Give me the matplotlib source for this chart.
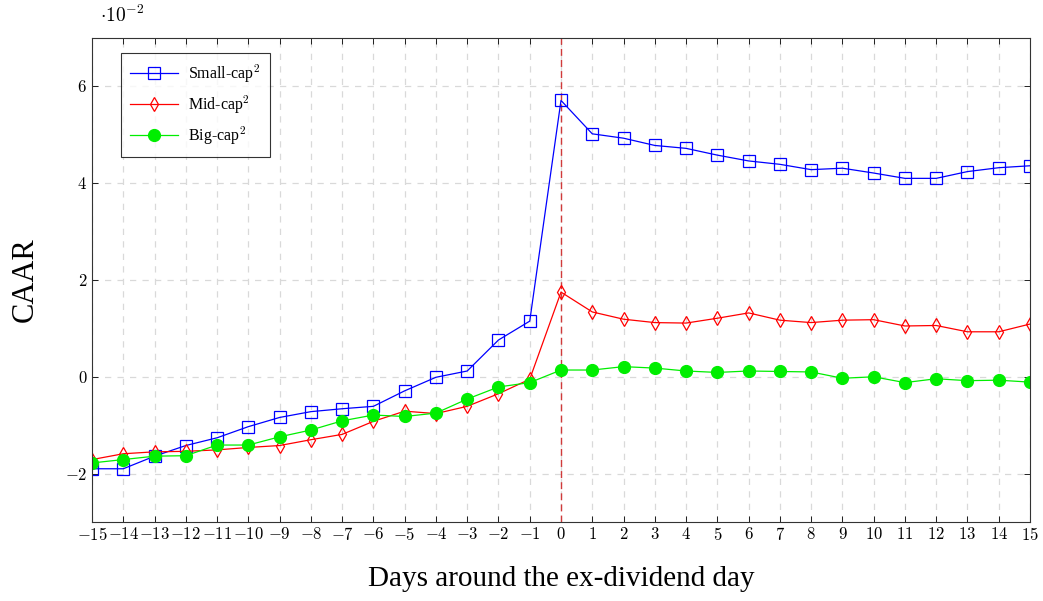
import matplotlib.pyplot as plt
from matplotlib.ticker import FuncFormatter

plt.rcParams["mathtext.fontset"] = "cm"
plt.rcParams["font.family"] = ["Liberation Serif", "DejaVu Serif"]

# CAAR values, in units of 10^-2
days = list(range(-15, 16))
small_cap = [-1.90, -1.90, -1.64, -1.42, -1.26, -1.03, -0.84, -0.72, -0.66, -0.61,
             -0.29, -0.01, 0.12, 0.76, 1.15, 5.71,
             5.02, 4.93, 4.78, 4.72, 4.58, 4.46, 4.39, 4.28, 4.31, 4.21,
             4.10, 4.10, 4.24, 4.32, 4.36]
mid_cap = [-1.71, -1.59, -1.55, -1.54, -1.51, -1.46, -1.42, -1.30, -1.19, -0.92,
           -0.71, -0.76, -0.61, -0.35, -0.05, 1.75,
           1.34, 1.19, 1.12, 1.11, 1.21, 1.32, 1.17, 1.12, 1.17, 1.18,
           1.05, 1.06, 0.93, 0.93, 1.09]
big_cap = [-1.78, -1.71, -1.64, -1.63, -1.41, -1.41, -1.24, -1.10, -0.91, -0.79,
           -0.82, -0.75, -0.46, -0.21, -0.12, 0.14,
           0.14, 0.21, 0.18, 0.12, 0.09, 0.12, 0.11, 0.10, -0.03, 0.00,
           -0.12, -0.04, -0.08, -0.07, -0.11]

fig = plt.figure(figsize=(10.43, 6.01), dpi=100)
ax = fig.add_axes([92 / 1043, 1 - 522 / 601, (1030 - 92) / 1043, (522 - 38) / 601])

ax.grid(True, color="#d9d9d9", linestyle=(0, (5, 5)), linewidth=0.9)
ax.set_axisbelow(True)
ax.axvline(0, color="#d03a3a", linestyle=(0, (5, 3)), linewidth=1.0, zorder=1.5)

ax.plot(days, small_cap, color="blue", linewidth=0.9, marker="s", markersize=8.5,
        markerfacecolor="none", markeredgewidth=0.9, label=r"Small-cap$^2$")
ax.plot(days, mid_cap, color="red", linewidth=0.9, marker="d", markersize=7,
        markerfacecolor="none", markeredgewidth=0.9, label=r"Mid-cap$^2$")
ax.plot(days, big_cap, color="#00ee00", linewidth=0.9, marker="o", markersize=8.5,
        markerfacecolor="#00ee00", markeredgecolor="#00ee00", label=r"Big-cap$^2$")

ax.set_xlim(-15, 15)
ax.set_ylim(-3, 7)
ax.set_xticks(days)
ax.set_yticks([-2, 0, 2, 4, 6])
fmt = FuncFormatter(lambda v, p: r"$%d$" % v)
ax.xaxis.set_major_formatter(fmt)
ax.yaxis.set_major_formatter(fmt)
ax.tick_params(direction="in", top=True, right=True, labelsize=12, length=4, width=0.6)
for s in ax.spines.values():
    s.set_linewidth(0.8)
    s.set_color("#333333")

ax.text(0.008, 1.025, r"$\cdot 10^{-2}$", transform=ax.transAxes, fontsize=14,
        ha="left", va="bottom")

ax.set_xlabel("Days around the ex-dividend day", fontsize=21, labelpad=16)
ax.set_ylabel("CAAR", fontsize=22, labelpad=18)

leg = ax.legend(loc="upper left", bbox_to_anchor=(0.022, 0.986), fontsize=11.5,
                frameon=True, fancybox=False, edgecolor="black", handlelength=3,
                borderpad=0.6, labelspacing=0.55, markerscale=1.0, handletextpad=0.6)
leg.get_frame().set_linewidth(0.8)

fig.savefig("out.png", dpi=100)
